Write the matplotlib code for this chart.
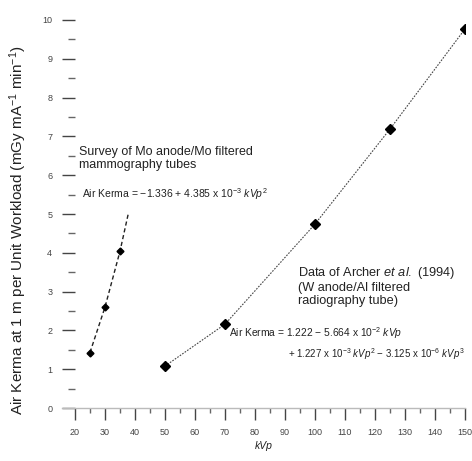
import numpy as np
import matplotlib
matplotlib.use("Agg")
import matplotlib.pyplot as plt
from matplotlib.ticker import MultipleLocator

plt.rcParams['font.family'] = ['Liberation Sans', 'DejaVu Sans']
plt.rcParams['mathtext.fontset'] = 'custom'
plt.rcParams['mathtext.rm'] = 'Liberation Sans'
plt.rcParams['mathtext.it'] = 'Liberation Sans:italic'

# Mo anode / Mo filtered mammography survey
mo_kvp = [25, 30, 35]
mo_kerma = [1.43, 2.6, 4.04]
# dashed fit line, end
mo_fit_kvp = [25, 30, 35, 37.8]
mo_fit_kerma = [1.43, 2.6, 4.04, 5.02]

# Archer et al. (1994), W anode / Al filtered
w_kvp = [50, 70, 100, 125, 150]
w_kerma = [1.08, 2.16, 4.74, 7.19, 9.77]

x_ticks = list(range(20, 151, 10))
y_ticks = list(range(0, 11))

fig = plt.figure(figsize=(4.72, 4.61), dpi=100)
ax = fig.add_axes([62 / 472, 1 - 408 / 461, (465 - 62) / 472, (408 - 20) / 461])

ax.plot(mo_fit_kvp, mo_fit_kerma, color='#222222', lw=1.0, ls=(0, (3, 2)))
ax.plot(mo_kvp, mo_kerma, ls='none', marker='D', ms=3.5, color='black')
ax.plot(w_kvp, w_kerma, color='#444444', lw=0.8, ls=(0, (1.5, 1.2)),
        marker='D', ms=4.8, mfc='black', mec='black')

ax.set_xlim(15.67, 150)
ax.set_ylim(0, 10)

for s in ['top', 'right', 'left']:
    ax.spines[s].set_visible(False)
ax.spines['left'].set_position(('data', 20))
ax.spines['bottom'].set_color('#bbbbbb')
ax.spines['bottom'].set_linewidth(1.0)

ax.set_xticks(x_ticks)
ax.set_yticks(y_ticks)
ax.xaxis.set_minor_locator(MultipleLocator(5))
ax.yaxis.set_minor_locator(MultipleLocator(0.5))
ax.tick_params(axis='y', which='major', direction='out', length=9.4, width=1.0,
               color='#444444', pad=7, labelsize=6.5, labelcolor='#444444')
ax.tick_params(axis='y', which='minor', direction='out', length=5, width=1.0,
               color='#666666')
ax.tick_params(axis='x', which='major', direction='out', length=8.6, width=1.0,
               color='#444444', pad=6, labelsize=6.5, labelcolor='#444444')
ax.tick_params(axis='x', which='minor', direction='out', length=3.6, width=1.0,
               color='#666666')

ax.set_xlabel('kVp', fontsize=7.5, style='italic', labelpad=3, color='#222222')
ax.set_ylabel('Air Kerma at 1 m per Unit Workload (mGy mA$^{-1}$ min$^{-1}$)',
              fontsize=11, color='#222222', va='center')
ax.yaxis.set_label_coords(-0.109, 0.459)

ax.text(21.5, 6.75, 'Survey of Mo anode/Mo filtered\nmammography tubes',
        fontsize=9, va='top', ha='left', linespacing=1.1, color='#222222')
ax.text(22.5, 5.5, r'Air Kerma = $-$1.336 + 4.385 x 10$^{-3}$ $\mathit{kVp}^2$',
        fontsize=7.5, va='center', ha='left', color='#222222')

ax.text(94.5, 3.68, 'Data of Archer $\\mathit{et\\ al.}$ (1994)\n(W anode/Al filtered\nradiography tube)',
        fontsize=9.2, va='top', ha='left', linespacing=1.1, color='#222222')
ax.text(71.5, 1.93, r'Air Kerma = 1.222 $-$ 5.664 x 10$^{-2}$ $\mathit{kVp}$',
        fontsize=7.4, va='center', ha='left', color='#222222')
ax.text(150, 1.39, r'+ 1.227 x 10$^{-3}$ $\mathit{kVp}^2$ $-$ 3.125 x 10$^{-6}$ $\mathit{kVp}^3$',
        fontsize=7, va='center', ha='right', color='#222222')

fig.savefig('out.png', dpi=100)
